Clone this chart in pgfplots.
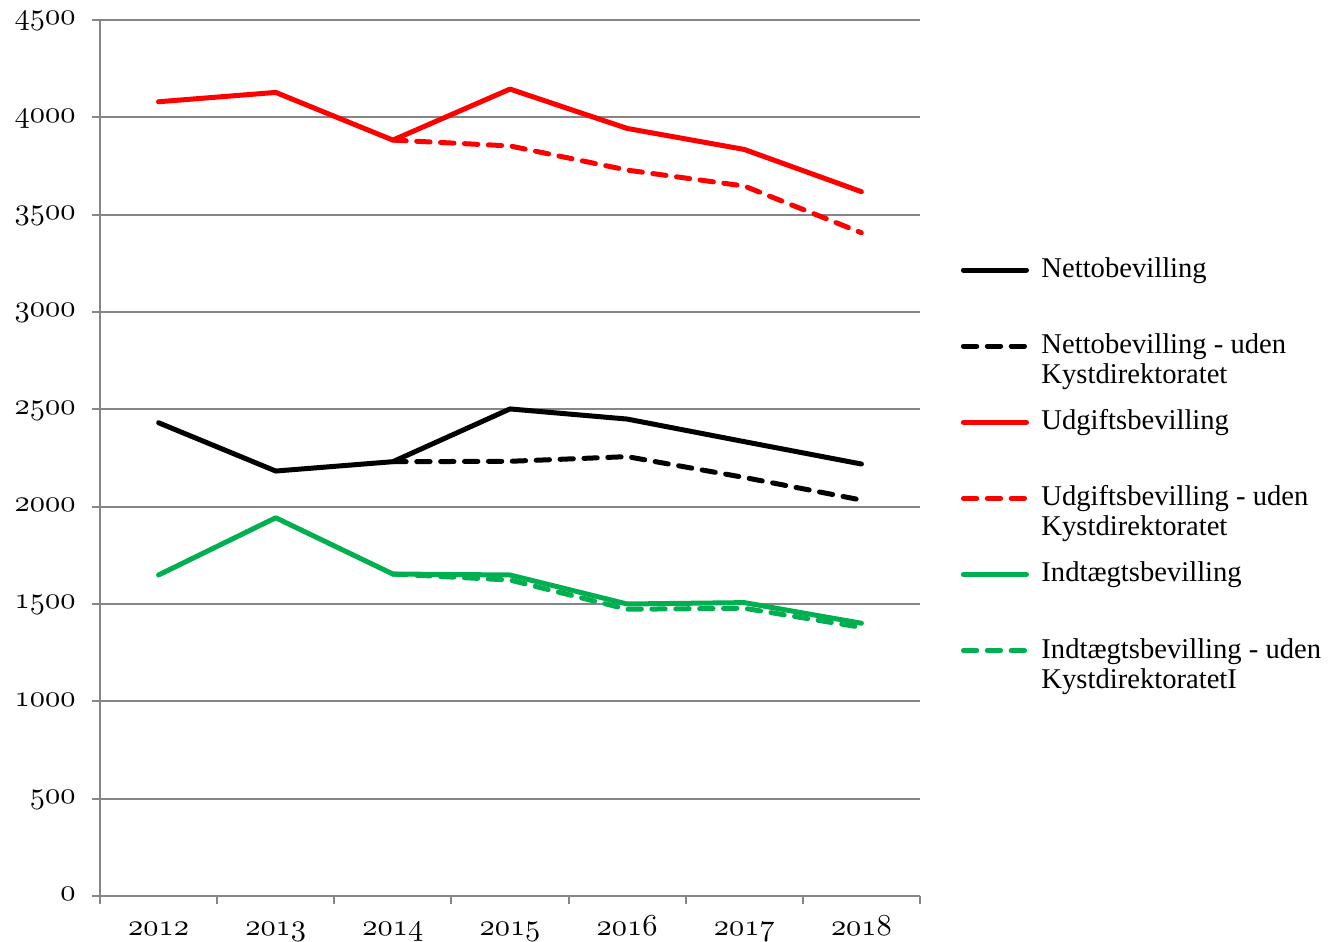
\documentclass[border=0pt]{standalone}
\usepackage{fontspec}
\setmainfont{Liberation Serif}
\usepackage{pgfplots}
\pgfplotsset{compat=1.18}
\definecolor{xgreen}{HTML}{00B050}
\definecolor{xred}{HTML}{FF0000}
\definecolor{xgrid}{HTML}{868686}
\newcommand\lgd[2]{\vtop to 27.4pt{\baselineskip=10.8pt\hbox{\rule{0pt}{8pt}#1}\hbox{#2}\vss}}
\newcommand\on[1]{$\mathnormal{#1}$}
\begin{document}
\begin{tikzpicture}
\useasboundingbox (-36pt,-16.56pt) rectangle (442.44pt,322.56pt);
\begin{axis}[
  at={(0,0)}, anchor=south west,
  scale only axis, width=295.2pt, height=315.36pt,
  xmin=-0.5, xmax=6.5, ymin=0, ymax=4500,
  axis x line*=bottom, axis y line*=left,
  axis line style={xgrid, line width=0.7pt},
  tick align=outside,
  major tick length=2.9pt,
  tick style={xgrid, line width=0.7pt},
  xtick={-0.5,0.5,...,6.5},
  xticklabels={},
  extra x ticks={0,1,2,3,4,5,6},
  extra x tick labels={\on{2012},\on{2013},\on{2014},\on{2015},\on{2016},\on{2017},\on{2018}},
  extra x tick style={major tick length=0pt, xticklabel style={text height=7.2pt, text depth=2pt, yshift=-3.4pt}},
  ytick={0,500,...,4500},
  yticklabels={\on{0},\on{500},\on{1000},\on{1500},\on{2000},\on{2500},\on{3000},\on{3500},\on{4000},\on{4500}},
  ticklabel style={font=\fontsize{10.5}{12}\selectfont},
  yticklabel style={xshift=-2.4pt, yshift=-0.5pt, text height=4.6pt, text depth=2pt},
  ymajorgrids, grid style={xgrid, line width=0.7pt},
  every axis plot/.append style={line width=1.8pt, line join=round, line cap=round},
  legend image code/.code={\draw[#1] (0pt,0pt) -- (22.7pt,0pt);},
  legend style={at={(axis description cs:1.0499,0.7314)}, anchor=north west,
    draw=none, fill=none, inner sep=0pt, outer sep=0pt,
    column sep=4.5pt, row sep=0pt,
    nodes={inner sep=0pt, text depth=, yshift=-2.7pt},
    cells={anchor=base west},
    font=\fontsize{10.3}{12}\selectfont},
]
\addplot[black] coordinates {(0,2431) (1,2183) (2,2231) (3,2502) (4,2450) (5,2334) (6,2219)};
\addlegendentry{\lgd{Nettobevilling}{}}
\addplot[black, dash pattern=on 4.8pt off 3.8pt] coordinates {(2,2231) (3,2233) (4,2257) (5,2150) (6,2034)};
\addlegendentry{\lgd{Nettobevilling - uden}{Kystdirektoratet}}
\addplot[xred] coordinates {(0,4080) (1,4128) (2,3883) (3,4145) (4,3943) (5,3835) (6,3618)};
\addlegendentry{\lgd{Udgiftsbevilling}{}}
\addplot[xred, dash pattern=on 4.8pt off 3.8pt] coordinates {(2,3883) (3,3853) (4,3729) (5,3647) (6,3407)};
\addlegendentry{\lgd{Udgiftsbevilling - uden}{Kystdirektoratet}}
\addplot[xgreen] coordinates {(0,1649) (1,1943) (2,1654) (3,1649) (4,1500) (5,1507) (6,1401)};
\addlegendentry{\lgd{Indtægtsbevilling}{}}
\addplot[xgreen, dash pattern=on 4.8pt off 3.8pt] coordinates {(2,1654) (3,1623) (4,1473) (5,1478) (6,1380)};
\addlegendentry{\lgd{Indtægtsbevilling - uden}{KystdirektoratetI}}
\end{axis}
\end{tikzpicture}
\end{document}
